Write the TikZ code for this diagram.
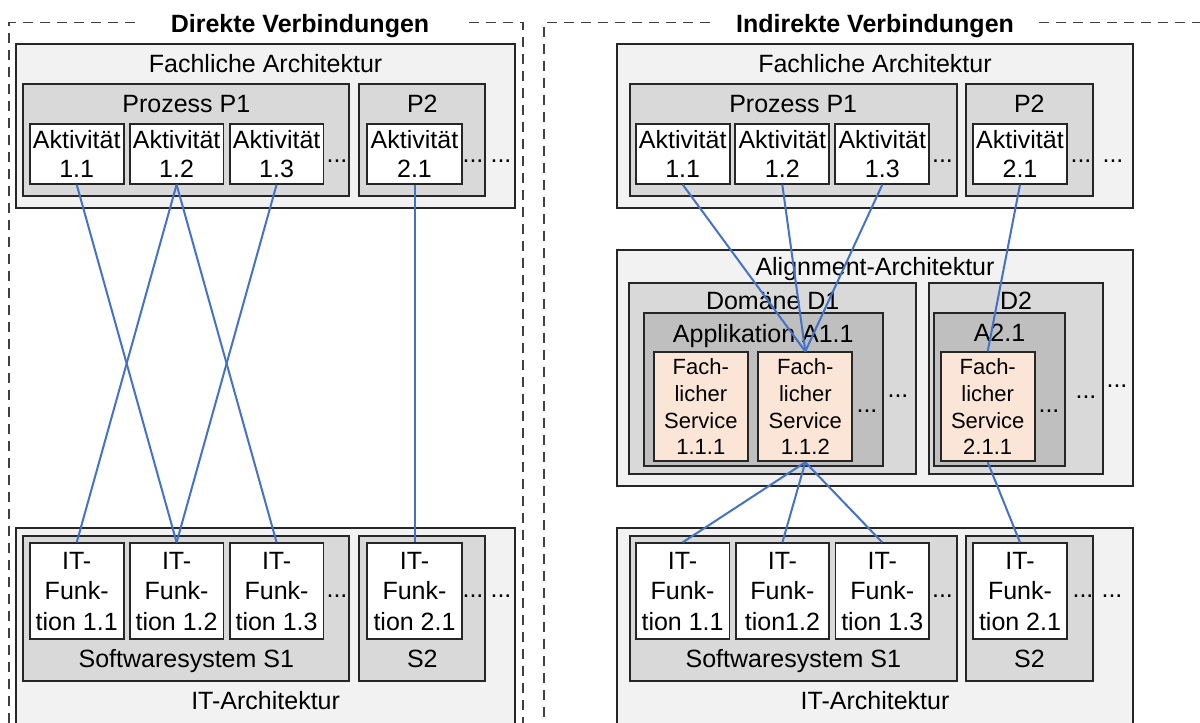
\documentclass[tikz,border=0pt]{standalone}
\usepackage{fontspec}
\setmainfont{Liberation Sans}
\definecolor{lgray}{HTML}{F2F2F2}
\definecolor{mgray}{HTML}{D9D9D9}
\definecolor{dgray}{HTML}{BFBFBF}
\definecolor{peach}{HTML}{FBE5D6}
\definecolor{linkblue}{HTML}{4472C4}
\definecolor{bordc}{HTML}{262626}
\definecolor{framec}{HTML}{404040}
% name, style, x1, y1, x2, y2, text
\newcommand{\bx}[7]{%
  \pgfmathsetmacro{\bxcx}{(#3+#5)/2}%
  \pgfmathsetmacro{\bxcy}{(#4+#6)/2}%
  \pgfmathsetmacro{\bxw}{#5-#3}%
  \pgfmathsetmacro{\bxh}{#6-#4}%
  \node[#2,minimum width=\bxw pt,minimum height=\bxh pt] (#1) at (\bxcx,\bxcy) {#7};}
\begin{document}
\begin{tikzpicture}[x=1pt,y=-1pt,
  bx/.style={rectangle,draw=bordc,line width=1.8pt,inner sep=0pt,align=center,font=\fontsize{25}{29.5}\selectfont},
  outerbox/.style={bx,fill=lgray},
  grpbox/.style={bx,fill=mgray},
  appbox/.style={bx,fill=dgray},
  itembox/.style={bx,fill=white},
  itfbox/.style={bx,fill=white,font=\fontsize{25}{30.5}\selectfont},
  svcbox/.style={bx,fill=peach,font=\fontsize{22}{26.7}\selectfont},
  lbl/.style={anchor=base,inner sep=0pt,font=\fontsize{25}{30}\selectfont},
  ttl/.style={anchor=base,inner sep=0pt,font=\bfseries\fontsize{25}{30}\selectfont},
  dotsn/.style={anchor=base,inner sep=0pt,font=\fontsize{25}{30}\selectfont},
  conn/.style={draw=linkblue,line width=2pt},
  dframe/.style={draw=framec,line width=1.4pt,dash pattern=on 10pt off 7pt}]
\useasboundingbox (0,0) rectangle (1200,723);
\clip (0,0) rectangle (1200,723);
\fill[white] (0,0) rectangle (1200,723);

% ---------------- dashed frames and titles
\draw[dframe] (135,22.7) -- (9,22.7) -- (9,740);
\draw[dframe] (469,22.7) -- (523,22.7) -- (523,740);
\draw[dframe] (710,22.7) -- (544,22.7) -- (544,740);
\draw[dframe] (1039,22.7) -- (1215,22.7);
\node[ttl] (tL) at (300,32) {Direkte Verbindungen};
\node[ttl] (tR) at (875,32) {Indirekte Verbindungen};

% ================= LEFT PANEL =================
\bx{faL}{outerbox}{16.3}{44}{515}{208}{}
\bx{p1L}{grpbox}{23.3}{84}{349.3}{196}{}
\bx{p2L}{grpbox}{359.3}{84}{485.3}{196}{}
\node[lbl] (faLl) at (265.6,72.7) {Fachliche Architektur};
\node[lbl] (p1Ll) at (186.3,112.7) {Prozess P1};
\node[lbl] (p2Ll) at (422.3,112.7) {P2};
\bx{a11L}{itembox}{29.7}{124}{123.7}{183.7}{Aktivität\\1.1}
\bx{a12L}{itembox}{129.7}{124}{223.5}{183.7}{Aktivität\\1.2}
\bx{a13L}{itembox}{229.7}{124}{323.5}{183.7}{Aktivität\\1.3}
\bx{a21L}{itembox}{367.3}{124}{461.7}{183.7}{Aktivität\\2.1}
\node[dotsn] (dt1L) at (337,162) {...};
\node[dotsn] (dt2L) at (473,162) {...};
\node[dotsn] (dt3L) at (501,162) {...};

\bx{itL}{outerbox}{16.3}{527.7}{515}{745}{}
\bx{s1L}{grpbox}{23.3}{535.7}{349.3}{681}{}
\bx{s2L}{grpbox}{359.3}{535.7}{485.3}{681}{}
\node[lbl] (itLl) at (265.6,709) {IT-Architektur};
\node[lbl] (s1Ll) at (186.3,667) {Softwaresystem S1};
\node[lbl] (s2Ll) at (422.3,667) {S2};
\bx{f11L}{itfbox}{29.7}{543.3}{123.7}{639.3}{IT-\\Funk-\\tion 1.1}
\bx{f12L}{itfbox}{129.7}{543.3}{223.5}{639.3}{IT-\\Funk-\\tion 1.2}
\bx{f13L}{itfbox}{229.7}{543.3}{323.5}{639.3}{IT-\\Funk-\\tion 1.3}
\bx{f21L}{itfbox}{367.3}{543.3}{461.7}{639.3}{IT-\\Funk-\\tion 2.1}
\node[dotsn] (dt4L) at (337,597) {...};
\node[dotsn] (dt5L) at (473,597) {...};
\node[dotsn] (dt6L) at (501,597) {...};

% ================= RIGHT PANEL =================
\bx{faR}{outerbox}{617.3}{44}{1132.7}{208}{}
\bx{p1R}{grpbox}{629.7}{84}{956.7}{196}{}
\bx{p2R}{grpbox}{966}{84}{1092.7}{196}{}
\node[lbl] (faRl) at (875,72.7) {Fachliche Architektur};
\node[lbl] (p1Rl) at (793.2,112.7) {Prozess P1};
\node[lbl] (p2Rl) at (1029.3,112.7) {P2};
\bx{a11R}{itembox}{635.7}{124}{729.7}{183.7}{Aktivität\\1.1}
\bx{a12R}{itembox}{735.3}{124}{829.3}{183.7}{Aktivität\\1.2}
\bx{a13R}{itembox}{835.3}{124}{929.3}{183.7}{Aktivität\\1.3}
\bx{a21R}{itembox}{973.3}{124}{1066.7}{183.7}{Aktivität\\2.1}
\node[dotsn] (dt1R) at (942.5,162) {...};
\node[dotsn] (dt2R) at (1081,162) {...};
\node[dotsn] (dt3R) at (1113,162) {...};

\bx{alR}{outerbox}{617.3}{250}{1132.7}{486}{}
\bx{d1R}{grpbox}{629.3}{283.3}{916}{474}{}
\bx{d2R}{grpbox}{929}{283.3}{1102.7}{474}{}
\bx{ap1R}{appbox}{644}{313.3}{882.7}{466}{}
\bx{ap2R}{appbox}{933.7}{313.3}{1065.3}{466}{}
\node[lbl] (alRl) at (875,275) {Alignment-Architektur};
\node[lbl] (d1Rl) at (772.7,309) {Domäne D1};
\node[lbl] (d2Rl) at (1016,309) {D2};
\node[lbl] (ap1Rl) at (763.3,342) {Applikation A1.1};
\node[lbl] (ap2Rl) at (999.5,341.5) {A2.1};
\bx{fs111}{svcbox}{654}{352.3}{747.7}{461.3}{Fach-\\licher\\Service\\1.1.1}
\bx{fs112}{svcbox}{758.3}{352.3}{852.3}{461.3}{Fach-\\licher\\Service\\1.1.2}
\bx{fs211}{svcbox}{940.7}{352.3}{1034.7}{461.3}{Fach-\\licher\\Service\\2.1.1}
\node[dotsn] (dt4R) at (867,412) {...};
\node[dotsn] (dt5R) at (898,397) {...};
\node[dotsn] (dt6R) at (1049,412.5) {...};
\node[dotsn] (dt7R) at (1086,398.5) {...};
\node[dotsn] (dt8R) at (1117,387) {...};

\bx{itR}{outerbox}{617.3}{527.7}{1132.7}{745}{}
\bx{s1R}{grpbox}{629.9}{535.7}{956.7}{681}{}
\bx{s2R}{grpbox}{966.2}{535.7}{1092.9}{681}{}
\node[lbl] (itRl) at (875,709) {IT-Architektur};
\node[lbl] (s1Rl) at (793.3,667) {Softwaresystem S1};
\node[lbl] (s2Rl) at (1029.5,667) {S2};
\bx{f11R}{itfbox}{635.7}{543.3}{729.4}{639.3}{IT-\\Funk-\\tion 1.1}
\bx{f12R}{itfbox}{735.9}{543.3}{828.9}{639.3}{IT-\\Funk-\\tion1.2}
\bx{f13R}{itfbox}{835.4}{543.3}{929.1}{639.3}{IT-\\Funk-\\tion 1.3}
\bx{f21R}{itfbox}{973.1}{543.3}{1066.9}{639.3}{IT-\\Funk-\\tion 2.1}
\node[dotsn] (dt9R) at (942.5,597) {...};
\node[dotsn] (dt10R) at (1083,597) {...};
\node[dotsn] (dt11R) at (1112,597) {...};

% ================= CONNECTORS =================
\draw[conn] (a11L.south) -- (f12L.north);
\draw[conn] (a12L.south) -- (f11L.north);
\draw[conn] (a12L.south) -- (f13L.north);
\draw[conn] (a13L.south) -- (f12L.north);
\draw[conn] (a21L.south) -- (f21L.north);

\draw[conn] (a11R.south) -- (fs112.north);
\draw[conn] (a12R.south) -- (fs112.north);
\draw[conn] (a13R.south) -- (fs112.north);
\draw[conn] (a21R.south) -- (fs211.north);
\draw[conn] (fs112.south) -- (f11R.north);
\draw[conn] (fs112.south) -- (f12R.north);
\draw[conn] (fs112.south) -- (f13R.north);
\draw[conn] (fs211.south) -- (f21R.north);
\end{tikzpicture}
\end{document}
